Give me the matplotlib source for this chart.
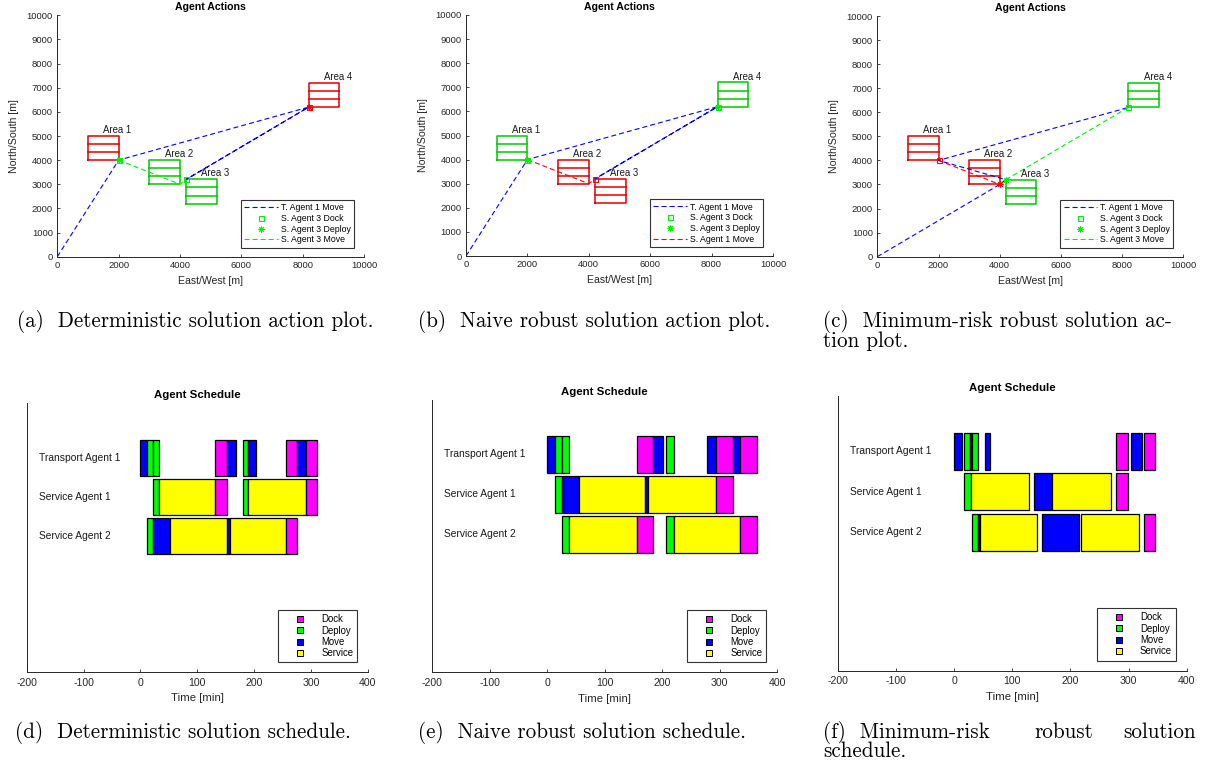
import matplotlib
matplotlib.use('Agg')
import matplotlib.pyplot as plt
from matplotlib.lines import Line2D

plt.rcParams['font.family'] = ['Liberation Sans', 'DejaVu Sans']
plt.rcParams['axes.unicode_minus'] = False
plt.rcParams['lines.scale_dashes'] = False

W, H = 1206, 772

# ---------------- data: action plots ----------------
area_names = ['Area 1', 'Area 2', 'Area 3', 'Area 4']
area_x0 = [1000, 3000, 4200, 8200]
area_y0 = [4000, 3000, 2200, 6200]
area_size = 1000

areas_a = ['r', 'g', 'g', 'r']
areas_b = ['g', 'r', 'r', 'g']
areas_c = ['r', 'r', 'g', 'g']

# (a) deterministic
a_t1_x = [0, 2000, 8200, 4200, 8200]
a_t1_y = [0, 4000, 6200, 3200, 6200]
a_s_x = [2000, 4000, 4200]
a_s_y = [4000, 3000, 3200]
a_gdock_x = [2000, 4200]
a_gdock_y = [4000, 3200]
a_gdep_x = [2000]
a_gdep_y = [4000]
a_rdock_x = [8200]
a_rdock_y = [6200]
a_rdep_x = [8200]
a_rdep_y = [6200]

# (b) naive robust
b_t1_x = [0, 2000, 8200, 4200, 8200]
b_t1_y = [0, 4000, 6200, 3200, 6200]
b_s_x = [2000, 4000, 4200]
b_s_y = [4000, 3000, 3200]
b_gdock_x = [2000, 8200]
b_gdock_y = [4000, 6200]
b_gdep_x = [2000, 8200]
b_gdep_y = [4000, 6200]
b_rdock_x = [4200]
b_rdock_y = [3200]
b_rdep_x = []
b_rdep_y = []

# (c) minimum-risk robust
c_t1_x = [0, 4000, 4200, 2000, 8200]
c_t1_y = [0, 3000, 3200, 4000, 6200]
c_s_x = [4200, 8200]
c_s_y = [3200, 6200]
c_r_x = [2000, 4000]
c_r_y = [4000, 3000]
c_gdock_x = [8200]
c_gdock_y = [6200]
c_gdep_x = [4200]
c_gdep_y = [3200]
c_rdock_x = [2000]
c_rdock_y = [4000]
c_rdep_x = [4000]
c_rdep_y = [3000]

xy_ticks = [0, 2000, 4000, 6000, 8000, 10000]
y_ticks = [0, 1000, 2000, 3000, 4000, 5000, 6000, 7000, 8000, 9000, 10000]

# ---------------- data: schedules ----------------
agents = ['Transport Agent 1', 'Service Agent 1', 'Service Agent 2']
kinds = ['Dock', 'Deploy', 'Move', 'Service']

det_t1_start = [0, 12, 22, 132, 152, 180, 190, 257, 276, 291]
det_t1_end = [12, 22, 32, 152, 169, 190, 204, 276, 291, 310]
det_t1_kind = ['Move', 'Deploy', 'Deploy', 'Dock', 'Move', 'Deploy', 'Move', 'Dock', 'Move', 'Dock']
det_s1_start = [22, 32, 132, 180, 190, 291]
det_s1_end = [32, 132, 152, 190, 291, 310]
det_s1_kind = ['Deploy', 'Service', 'Dock', 'Deploy', 'Service', 'Dock']
det_s2_start = [12, 22, 52, 152, 157, 257]
det_s2_end = [22, 52, 152, 157, 257, 276]
det_s2_kind = ['Deploy', 'Move', 'Service', 'Move', 'Service', 'Dock']

nai_t1_start = [0, 13, 26, 156, 185, 207, 279, 293, 323, 336]
nai_t1_end = [13, 26, 38, 185, 202, 220, 293, 323, 336, 366]
nai_t1_kind = ['Move', 'Deploy', 'Deploy', 'Dock', 'Move', 'Deploy', 'Move', 'Dock', 'Move', 'Dock']
nai_s1_start = [13, 26, 55, 171, 176, 293]
nai_s1_end = [26, 55, 171, 176, 293, 323]
nai_s1_kind = ['Deploy', 'Move', 'Service', 'Move', 'Service', 'Dock']
nai_s2_start = [26, 38, 156, 207, 220, 336]
nai_s2_end = [38, 156, 185, 220, 336, 366]
nai_s2_kind = ['Deploy', 'Service', 'Dock', 'Deploy', 'Service', 'Dock']

mr_t1_start = [0, 17, 28, 31, 54, 278, 304, 326]
mr_t1_end = [14, 28, 31, 42, 62, 299, 323, 346]
mr_t1_kind = ['Move', 'Deploy', 'Move', 'Deploy', 'Move', 'Dock', 'Move', 'Dock']
mr_s1_start = [17, 29, 137, 169, 278]
mr_s1_end = [29, 129, 168, 270, 299]
mr_s1_kind = ['Deploy', 'Service', 'Move', 'Service', 'Dock']
mr_s2_start = [31, 42, 44, 151, 218, 326]
mr_s2_end = [42, 44, 143, 215, 318, 346]
mr_s2_kind = ['Deploy', 'Move', 'Service', 'Move', 'Service', 'Dock']

time_ticks = [-200, -100, 0, 100, 200, 300, 400]

# ---------------- styles ----------------
RED_AREA = '#e00000'
GREEN_AREA = '#00c800'
BLUE_LINE = '#0000ff'
GREEN_LINE = '#00ee00'
RED_LINE = '#ff0000'
AX_COL = '#262626'
KIND_COL = {'Dock': '#ff00ff', 'Deploy': '#00ff00', 'Move': '#0000ff', 'Service': '#ffff00'}
DASH = (3.6, 2.2)

fig = plt.figure(figsize=(W / 100, H / 100), dpi=100)


def rect_px(left, top, right, bottom):
    return [left / W, 1 - bottom / H, (right - left) / W, (bottom - top) / H]


def style_axes(ax, fs_tick, pad):
    for s in ('top', 'right'):
        ax.spines[s].set_visible(False)
    for s in ('left', 'bottom'):
        ax.spines[s].set_color(AX_COL)
        ax.spines[s].set_linewidth(0.7)
    ax.tick_params(direction='in', length=2.2, width=0.6, colors=AX_COL,
                   labelsize=fs_tick, pad=pad)


def actions_axes(rect, area_cols, t1x, t1y, sx, sy, s_col, s_label,
                 gdx, gdy, gpx, gpy, rdx, rdy, rpx, rpy, extra=None):
    ax = fig.add_axes(rect)
    for name, x0, y0, c in zip(area_names, area_x0, area_y0, area_cols):
        col = RED_AREA if c == 'r' else GREEN_AREA
        xs = [x0, x0 + area_size, x0 + area_size, x0, x0]
        ys = [y0, y0, y0 + area_size, y0 + area_size, y0]
        ax.plot(xs, ys, color=col, lw=1.1)
        for k in (1, 2):
            ax.plot([x0, x0 + area_size], [y0 + k * area_size / 3] * 2, color=col, lw=1.1)
        ax.text(x0 + 500, y0 + area_size + 40, name, fontsize=6.9, ha='left',
                va='bottom', color='#1a1a1a')
    l1, = ax.plot(t1x, t1y, color=BLUE_LINE, lw=0.8, dashes=DASH, label='T. Agent 1 Move')
    if extra is not None:
        ax.plot(extra[0], extra[1], color=RED_LINE, lw=0.8, dashes=DASH)
    l4, = ax.plot(sx, sy, color=s_col, lw=0.8, dashes=DASH, label=s_label)
    l2, = ax.plot(gdx, gdy, ls='none', marker='s', ms=3.6, mfc='none',
                  mec=GREEN_LINE, mew=0.8, label='S. Agent 3 Dock')
    l3, = ax.plot(gpx, gpy, ls='none', marker=(8, 2, 0), ms=4.2,
                  mec=GREEN_LINE, mew=0.7, label='S. Agent 3 Deploy')
    ax.plot(rdx, rdy, ls='none', marker='s', ms=3.6, mfc='none', mec=RED_LINE, mew=0.8)
    ax.plot(rpx, rpy, ls='none', marker=(8, 2, 0), ms=4.2, mec=RED_LINE, mew=0.7)
    ax.set_xlim(0, 10000)
    ax.set_ylim(0, 10000)
    ax.set_xticks(xy_ticks)
    ax.set_yticks(y_ticks)
    style_axes(ax, 6.8, 3.2)
    ax.text(0.5, 1.033, 'Agent Actions', transform=ax.transAxes, ha='center',
            va='center', fontsize=7.6, fontweight='bold')
    ax.text(0.5, -0.099, 'East/West [m]', transform=ax.transAxes, ha='center',
            va='center', fontsize=7.6, color=AX_COL)
    ax.text(-0.141, 0.5, 'North/South [m]', transform=ax.transAxes, ha='center',
            va='center', rotation=90, fontsize=7.6, color=AX_COL)
    leg = ax.legend(handles=[l1, l2, l3, l4], loc='lower right',
                    bbox_to_anchor=(0.967, 0.037), fontsize=6.3, frameon=True,
                    fancybox=False, framealpha=1, edgecolor='#333333',
                    handlelength=3.8, handletextpad=0.35, labelspacing=0.2,
                    borderpad=0.38, borderaxespad=0)
    leg.get_frame().set_linewidth(0.8)
    return ax


actions_axes(rect_px(57.3, 15.3, 364, 256.7), areas_a, a_t1_x, a_t1_y, a_s_x, a_s_y,
             GREEN_LINE, 'S. Agent 3 Move', a_gdock_x, a_gdock_y, a_gdep_x, a_gdep_y,
             a_rdock_x, a_rdock_y, a_rdep_x, a_rdep_y)
actions_axes(rect_px(466, 15, 773, 256), areas_b, b_t1_x, b_t1_y, b_s_x, b_s_y,
             RED_LINE, 'S. Agent 1 Move', b_gdock_x, b_gdock_y, b_gdep_x, b_gdep_y,
             b_rdock_x, b_rdock_y, b_rdep_x, b_rdep_y)
actions_axes(rect_px(877.3, 16, 1183.3, 256.7), areas_c, c_t1_x, c_t1_y, c_s_x, c_s_y,
             GREEN_LINE, 'S. Agent 3 Move', c_gdock_x, c_gdock_y, c_gdep_x, c_gdep_y,
             c_rdock_x, c_rdock_y, c_rdep_x, c_rdep_y, extra=(c_r_x, c_r_y))


def schedule_axes(rect, rows, ylim):
    ax = fig.add_axes(rect)
    ypos = [3, 2, 1]
    for y, (st, en, kd), name in zip(ypos, rows, agents):
        ax.barh([y] * len(st), [e - s for s, e in zip(st, en)], left=st, height=0.92,
                color=[KIND_COL[k] for k in kd], edgecolor='black', linewidth=0.9)
        ax.text(-179, y, name, ha='left', va='center', fontsize=7.4, color='#1a1a1a')
    ax.set_xlim(-200, 400)
    ax.set_ylim(*ylim)
    ax.set_xticks(time_ticks)
    ax.set_yticks([])
    style_axes(ax, 7.6, 4.0)
    ax.text(0.5, 1.029, 'Agent Schedule', transform=ax.transAxes, ha='center',
            va='center', fontsize=8.2, fontweight='bold')
    ax.text(0.5, -0.0965, 'Time [min]', transform=ax.transAxes, ha='center',
            va='center', fontsize=8.2, color=AX_COL)
    handles = [Line2D([], [], ls='none', marker='s', ms=3.8, mfc=KIND_COL[k],
                      mec='black', mew=0.7, label=k) for k in kinds]
    leg = ax.legend(handles=handles, loc='lower right', bbox_to_anchor=(0.9695, 0.037),
                    fontsize=6.9, frameon=True, fancybox=False, framealpha=1,
                    edgecolor='#333333', handlelength=3.8, handletextpad=0.3,
                    labelspacing=0.14, borderpad=0.42, borderaxespad=0)
    leg.get_frame().set_linewidth(0.8)
    return ax


schedule_axes(rect_px(26.7, 403, 367.7, 672.3),
              [(det_t1_start, det_t1_end, det_t1_kind),
               (det_s1_start, det_s1_end, det_s1_kind),
               (det_s2_start, det_s2_end, det_s2_kind)], (-2.47, 4.39))
schedule_axes(rect_px(432.3, 400, 777, 672.3),
              [(nai_t1_start, nai_t1_end, nai_t1_kind),
               (nai_s1_start, nai_s1_end, nai_s1_kind),
               (nai_s2_start, nai_s2_end, nai_s2_kind)], (-2.45, 4.36))
schedule_axes(rect_px(837.7, 395.7, 1186.7, 670.7),
              [(mr_t1_start, mr_t1_end, mr_t1_kind),
               (mr_s1_start, mr_s1_end, mr_s1_kind),
               (mr_s2_start, mr_s2_end, mr_s2_kind)], (-2.42, 4.37))

# ---------------- captions ----------------
CAP = dict(fontsize=15.2, family='cmr10', ha='left', va='center', color='black')


def cap(x, y, s, **kw):
    d = dict(CAP)
    d.update(kw)
    fig.text(x / W, 1 - y / H, s, **d)


cap(17, 322, '(a)  Deterministic solution action plot.')
cap(418, 322, '(b)  Naive robust solution action plot.')
cap(823, 322, '(c)  Minimum-risk robust solution ac-')
cap(823, 341, 'tion plot.')
cap(15, 732, '(d)  Deterministic solution schedule.')
cap(418, 732, '(e)  Naive robust solution schedule.')
cap(823, 732, '(f)  Minimum-risk')
cap(1064, 732, 'robust', ha='center')
cap(1196, 732, 'solution', ha='right')
cap(823, 751, 'schedule.')

fig.savefig('out.png', dpi=100)
